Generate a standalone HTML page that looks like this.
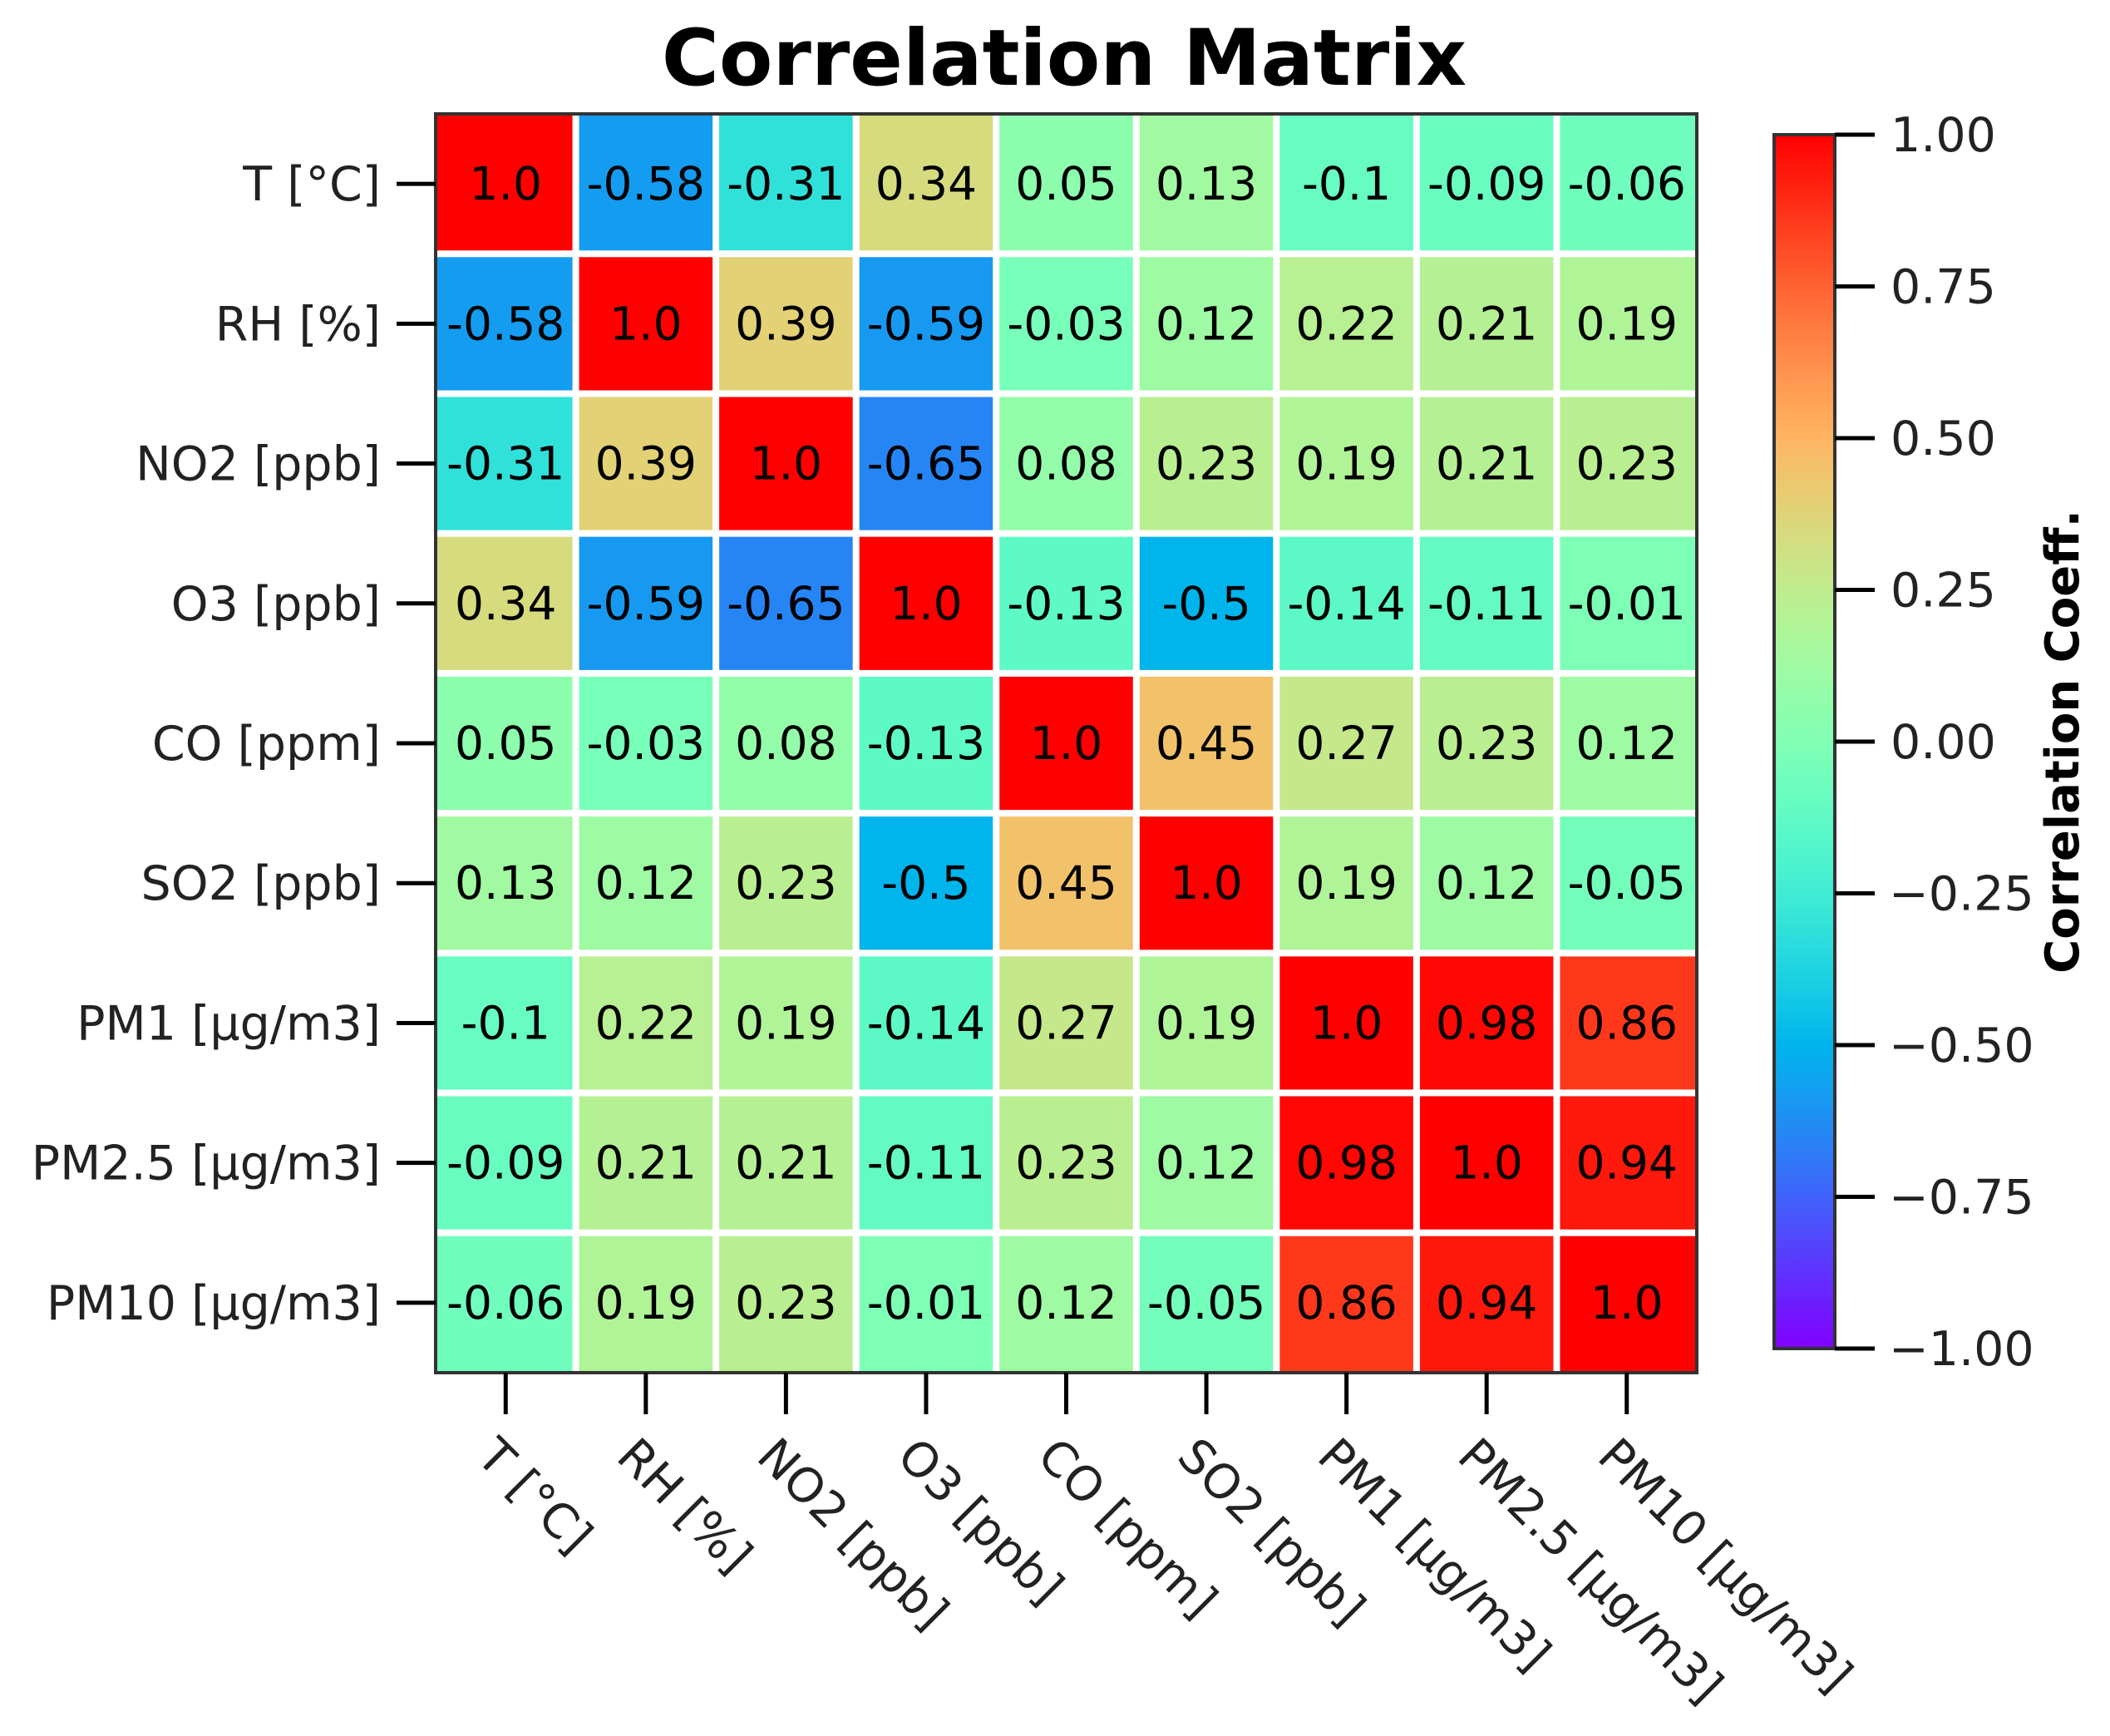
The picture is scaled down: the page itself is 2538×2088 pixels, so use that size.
<!DOCTYPE html>
<html><head><meta charset="utf-8"><style>
html,body{margin:0;padding:0;background:#fff;}
svg{display:block;font-family:"DejaVu Sans","Liberation Sans",sans-serif;}
</style></head><body>
<svg id="chart" width="2538" height="2088" viewBox="0 0 2538 2088">
<text x="1280" y="102" text-anchor="middle" font-size="94" font-weight="bold">Correlation Matrix</text>
<g id="cells"></g>
<g id="annots"></g>
<g id="grid"></g>
<rect x="524" y="137" width="1517" height="1514" fill="none" stroke="#333" stroke-width="4"/>
<g id="yaxis"></g>
<g id="xaxis"></g>
<g id="cbar"></g>
<text transform="translate(2500,892) rotate(-90)" text-anchor="middle" font-size="56" font-weight="bold">Correlation Coeff.</text>
</svg>
<script>
const labels = ["T [°C]","RH [%]","NO2 [ppb]","O3 [ppb]","CO [ppm]","SO2 [ppb]","PM1 [µg/m3]","PM2.5 [µg/m3]","PM10 [µg/m3]"];
const row0 = [1.0,-0.58,-0.31,0.34,0.05,0.13,-0.1,-0.09,-0.06];
const row1 = [-0.58,1.0,0.39,-0.59,-0.03,0.12,0.22,0.21,0.19];
const row2 = [-0.31,0.39,1.0,-0.65,0.08,0.23,0.19,0.21,0.23];
const row3 = [0.34,-0.59,-0.65,1.0,-0.13,-0.5,-0.14,-0.11,-0.01];
const row4 = [0.05,-0.03,0.08,-0.13,1.0,0.45,0.27,0.23,0.12];
const row5 = [0.13,0.12,0.23,-0.5,0.45,1.0,0.19,0.12,-0.05];
const row6 = [-0.1,0.22,0.19,-0.14,0.27,0.19,1.0,0.98,0.86];
const row7 = [-0.09,0.21,0.21,-0.11,0.23,0.12,0.98,1.0,0.94];
const row8 = [-0.06,0.19,0.23,-0.01,0.12,-0.05,0.86,0.94,1.0];
const matrix = [row0,row1,row2,row3,row4,row5,row6,row7,row8];
const cbTicks = [1.0,0.75,0.5,0.25,0,-0.25,-0.5,-0.75,-1.0];
const cbTickLabels = ["1.00","0.75","0.50","0.25","0.00","\u22120.25","\u22120.50","\u22120.75","\u22121.00"];

const NS="http://www.w3.org/2000/svg";
const L=524,T=137,W=1517,H=1514,n=labels.length,cw=W/n,ch=H/n;
const xPos=i=>L+i*cw, yPos=j=>T+j*ch;
const CB_L=2134,CB_R=2207,CB_T=162,CB_B=1622;
const cbY=v=>CB_T+(1-v)/2*(CB_B-CB_T);
function rainbow(v){const x=(v+1)/2;
 const r=Math.min(1,Math.abs(2*x-0.5)),g=Math.sin(Math.PI*x),b=Math.cos(Math.PI*x/2);
 return `rgb(${Math.round(r*255)},${Math.round(g*255)},${Math.round(Math.max(0,b)*255)})`;}
function mk(tag,attrs,parent){const e=document.createElementNS(NS,tag);for(const k in attrs)e.setAttribute(k,attrs[k]);parent.appendChild(e);return e;}
const cells=document.getElementById('cells'),annots=document.getElementById('annots'),grid=document.getElementById('grid');
matrix.forEach((row,j)=>row.forEach((v,i)=>{
 const r=mk('rect',{x:xPos(i),y:yPos(j),width:cw+0.5,height:ch+0.5,fill:rainbow(v)},cells);
 
 
 const t=mk('text',{x:xPos(i)+cw/2,y:yPos(j)+ch/2+19,'text-anchor':'middle','font-size':55},annots);
 t.textContent=(v===1?"1.0":String(v));
 
 
}));
for(let k=1;k<n;k++){
 const a=mk('line',{x1:xPos(k),x2:xPos(k),y1:T,y2:T+H,stroke:'#fff','stroke-width':8},grid);
 
 
 const b=mk('line',{x1:L,x2:L+W,y1:yPos(k),y2:yPos(k),stroke:'#fff','stroke-width':8},grid);
 
 
}
const ya=document.getElementById('yaxis'),xa=document.getElementById('xaxis');
labels.forEach((lab,j)=>{
 const cy=yPos(j)+ch/2;
 const tk=mk('line',{x1:477,x2:L,y1:cy,y2:cy,stroke:'#000','stroke-width':5},ya);
 
 
 const t=mk('text',{x:458,y:cy+20,'text-anchor':'end','font-size':57,fill:'#222'},ya);
 t.textContent=lab;
 
 
 const cx=xPos(j)+cw/2;
 const tx=mk('line',{x1:cx,x2:cx,y1:T+H,y2:T+H+50,stroke:'#000','stroke-width':5},xa);
 
 
 const ax=cx-8,ay=T+H+74;
 const t2=mk('text',{x:ax,y:ay,'font-size':57,fill:'#222','dominant-baseline':'hanging',transform:`rotate(45 ${ax} ${ay})`},xa);
 t2.textContent=lab;
 
 
});
const cb=document.getElementById('cbar');
const defs=mk('defs',{},cb);
const grad=mk('linearGradient',{id:'cbg',x1:0,y1:0,x2:0,y2:1},defs);
for(let s=0;s<=40;s++){const v=1-s/20;mk('stop',{offset:(s/40),'stop-color':rainbow(v)},grad);}
const cbr=mk('rect',{x:CB_L,y:CB_T,width:CB_R-CB_L,height:CB_B-CB_T,fill:'url(#cbg)',stroke:'#333','stroke-width':4},cb);


cbTicks.forEach((v,k)=>{
 const y=cbY(v);
 const l=mk('line',{x1:CB_R,x2:CB_R+48,y1:y,y2:y,stroke:'#000','stroke-width':5},cb);
 
 
 const t=mk('text',{x:v<0?2272:2274,y:y+20,'font-size':57,fill:'#222'},cb);
 t.textContent=cbTickLabels[k];
 
 
});
</script>
</body></html>
